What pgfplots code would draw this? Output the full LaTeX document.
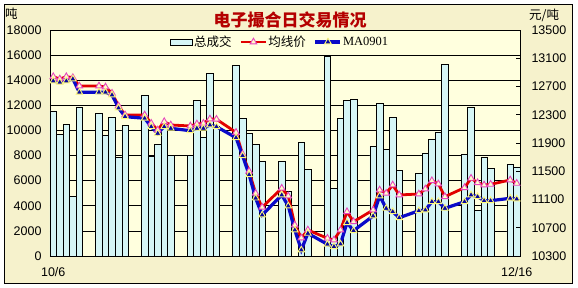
\documentclass[border=0pt]{standalone}
\usepackage{fontspec}
\setmainfont{Liberation Sans}
\newfontfamily\cjk{Noto Sans CJK SC}
\newfontfamily\ser{Liberation Serif}
\usepackage{pgfplots}
\pgfplotsset{compat=1.18}
\definecolor{outerbg}{RGB}{246,242,204}
\definecolor{plotbg}{RGB}{255,255,222}
\definecolor{barc}{RGB}{214,246,246}
\definecolor{redl}{RGB}{225,0,0}
\definecolor{bluel}{RGB}{10,10,200}
\definecolor{titlec}{RGB}{180,0,0}
\definecolor{pinkm}{RGB}{230,70,190}
\definecolor{yelm}{RGB}{255,250,120}
\begin{document}
\begin{tikzpicture}[x=1pt,y=1pt]
\fill[white] (0,0) rectangle (578,288);
\filldraw[fill=outerbg, draw=black, line width=0.8pt] (4,5) rectangle (572,284);
\begin{axis}[
  at={(50pt,32pt)}, anchor=south west,
  scale only axis, width=470pt, height=226pt,
  xmin=-0.5, xmax=71.5, ymin=0, ymax=18000,
  axis background/.style={fill=plotbg},
  axis line style={black, line width=0.7pt},
  ytick={0,2000,...,18000},
  ymajorgrids, grid style={black, line width=0.6pt},
  xtick={0,71}, xticklabels={10/6,12/16},
  major tick length=0pt,
  scaled y ticks=false,
  /pgf/number format/1000 sep={},
  /pgf/number format/assume math mode=true,
  ticklabel style={font=\fontsize{12.5}{12.5}\selectfont},
  yticklabel style={xshift=-5pt},
  xticklabel style={yshift=-8pt},
]
\addplot[ybar, bar width=1, fill=barc, draw=black, line width=0.6pt] coordinates {
(0,11550)(1,9690)(2,10500)(3,4720)(4,11870)
(7,11380)(8,9620)(9,11050)(10,7880)(11,10400)
(14,12800)(15,7930)(16,8900)(17,10250)(18,7990)
(21,7990)(22,12420)(23,9450)(24,14550)(25,10300)
(28,15180)(29,10960)(30,9770)(31,8870)(32,7540)
(35,7530)(36,5120)(38,9050)(39,6900)
(42,15900)(43,5360)(44,10960)(45,12400)(46,12480)
(49,8760)(50,12160)(51,8500)(52,11070)(53,6800)
(56,6580)(57,8180)(58,9290)(59,9850)(60,15290)
(63,8100)(64,11870)(65,3660)(66,7880)(67,6980)
(70,7300)(71,7090)
};
\end{axis}
\begin{axis}[
  at={(50pt,32pt)}, anchor=south west,
  scale only axis, width=470pt, height=226pt,
  xmin=-0.5, xmax=71.5, ymin=10300, ymax=13500,
  axis y line*=right, axis x line=none,
  axis line style={black, line width=0.7pt},
  ytick={10300,10700,...,13500},
  tick align=inside, major tick length=4pt,
  tick style={black, line width=0.7pt},
  scaled y ticks=false,
  /pgf/number format/1000 sep={},
  /pgf/number format/assume math mode=true,
  ticklabel style={font=\fontsize{12.5}{12.5}\selectfont},
  yticklabel style={xshift=8pt},
  legend image code/.code={\draw[#1,mark repeat=2,mark phase=2] plot coordinates {(0pt,0pt) (12.5pt,0pt) (25pt,0pt)};},
  legend style={at={(0.489,0.947)}, anchor=center, fill=plotbg, draw=none,
    legend columns=3, inner sep=1pt,
    nodes={inner sep=1pt, font=\fontsize{12.5}{12.5}\selectfont},
    /tikz/every even column/.append style={column sep=7pt}},
]
\addlegendimage{legend image code/.code={\draw[fill=barc,draw=black,line width=0.6pt] (0pt,-3pt) rectangle (22pt,3pt);}}
\addlegendentry{\cjk 总成交}
\addplot[redl, line width=2.8pt, mark=triangle*, mark size=3.8pt,
  mark options={fill=white!60!yelm, draw=pinkm, line width=0.9pt}] coordinates {
(0,12839)(1,12806)(2,12839)(3,12825)(4,12707)(7,12707)(8,12693)(9,12604)(10,12424)(11,12297)
(14,12297)(15,12179)(16,12084)(17,12202)(18,12155)(21,12141)(22,12169)(23,12179)(24,12240)(25,12236)
(28,12050)(29,11740)(30,11500)(31,11188)(32,10990)(35,11259)(36,11150)(37,10739)(38,10555)(39,10668)
(42,10551)(43,10527)(44,10668)(45,10927)(46,10786)(49,10951)(50,11235)(51,11188)(52,11305)(53,11164)
(56,11178)(57,11249)(58,11366)(59,11320)(60,11140)(63,11267)(64,11400)(65,11338)(66,11305)(67,11315)
(70,11376)(71,11329)
};
\addlegendentry{\cjk 均线价}
\addplot[bluel, line width=3.2pt, mark=triangle*, mark size=3.8pt,
  mark options={fill=bluel!80!black, draw=yelm, line width=0.9pt}] coordinates {
(0,12778)(1,12760)(2,12778)(3,12806)(4,12618)(7,12620)(8,12620)(9,12580)(10,12396)(11,12273)
(14,12250)(15,12131)(16,12037)(17,12131)(18,12108)(21,12074)(22,12108)(23,12108)(24,12155)(25,12131)
(28,11975)(29,11720)(30,11450)(31,11120)(32,10880)(35,11164)(36,11008)(37,10668)(38,10385)(39,10621)
(42,10466)(43,10432)(44,10470)(45,10772)(46,10658)(49,10866)(50,11150)(51,10975)(52,10927)(53,10842)
(56,10941)(57,10951)(58,11069)(59,11069)(60,10975)(63,11069)(64,11164)(65,11140)(66,11083)(67,11083)
(70,11117)(71,11107)
};
\addlegendentry{\ser MA0901}
\end{axis}
\node[text=titlec, font=\cjk\bfseries\fontsize{17}{17}\selectfont] at (290,268) {电子撮合日交易情况};
\node[font=\cjk\fontsize{12.5}{12.5}\selectfont, anchor=west, inner sep=0pt] at (5,274) {吨};
\node[font=\cjk\fontsize{12.5}{12.5}\selectfont, anchor=west, inner sep=0pt] at (529,273) {元/吨};
\end{tikzpicture}
\end{document}
